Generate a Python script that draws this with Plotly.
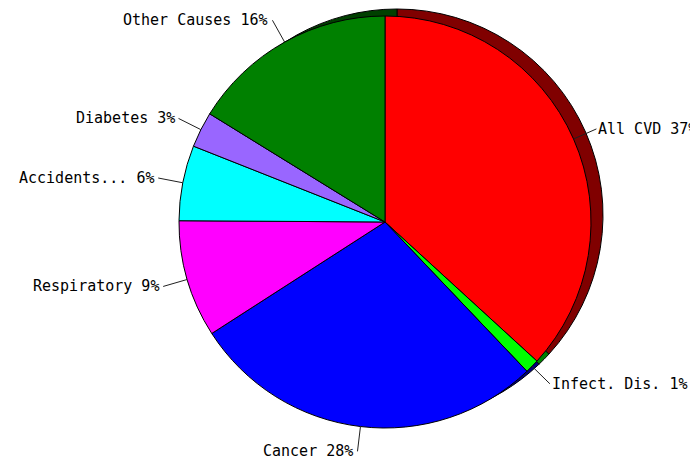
import math
import plotly.graph_objects as go

# ---- data ----
categories = ["All CVD", "Infect. Dis.", "Cancer", "Respiratory", "Accidents...", "Diabetes", "Other Causes"]
values = [36.8, 1.1, 28.0, 9.2, 5.9, 2.8, 16.2]
colors = ["#ff0000", "#00ff00", "#0000ff", "#ff00ff", "#00ffff", "#9966ff", "#008000"]
shadow_colors = ["#800000", "#008000", "#000080", "#800080", "#008080", "#4d3380", "#004000"]

# ---- layout constants (pixels, relative to the browser window) ----
W, H = 698, 461
PAGE_OFFSET = 8  # default body margin of the html page
CX, CY, R = 385 - PAGE_OFFSET, 222 - PAGE_OFFSET, 206
SHADOW_DX, SHADOW_DY = 12, -7
LEAD_R = 231


def px_x(x):
    return x / W


def px_y(y):
    return 1 - y / H


def domain(cx, cy):
    return dict(x=[px_x(cx - R), px_x(cx + R)], y=[px_y(cy + R), px_y(cy - R)])


fig = go.Figure()
fig.add_trace(go.Pie(
    labels=categories, values=values, sort=False, direction="clockwise", rotation=0,
    marker=dict(colors=shadow_colors, line=dict(color="#000000", width=1)),
    textinfo="none", hoverinfo="skip", showlegend=False,
    domain=domain(CX + SHADOW_DX, CY + SHADOW_DY),
))
fig.add_trace(go.Pie(
    labels=categories, values=values, sort=False, direction="clockwise", rotation=0,
    marker=dict(colors=colors, line=dict(color="#000000", width=1)),
    textinfo="none", showlegend=False,
    domain=domain(CX, CY),
))

total = sum(values)
cum = 0.0
shapes = []
annotations = []
for name, v in zip(categories, values):
    mid = (cum + v / 2) / total * 2 * math.pi
    cum += v
    sx, sy = CX + R * math.sin(mid), CY - R * math.cos(mid)
    ex, ey = CX + LEAD_R * math.sin(mid), CY - LEAD_R * math.cos(mid)
    shapes.append(dict(type="line", xref="paper", yref="paper",
                       x0=px_x(sx), y0=px_y(sy), x1=px_x(ex), y1=px_y(ey),
                       line=dict(color="#202020", width=1)))
    right = ex >= CX
    annotations.append(dict(
        x=px_x(ex), y=px_y(ey), xref="paper", yref="paper",
        text=f"{name} {round(v / total * 100)}%", showarrow=False,
        xanchor="left" if right else "right", yanchor="middle",
        xshift=0 if right else -2,
        font=dict(family="DejaVu Sans Mono", size=15, color="#000000"),
    ))

fig.update_layout(
    width=W, height=H, margin=dict(l=0, r=0, t=0, b=0),
    paper_bgcolor="#ffffff", plot_bgcolor="#ffffff",
    shapes=shapes, annotations=annotations,
)
fig.write_html("out.html")
